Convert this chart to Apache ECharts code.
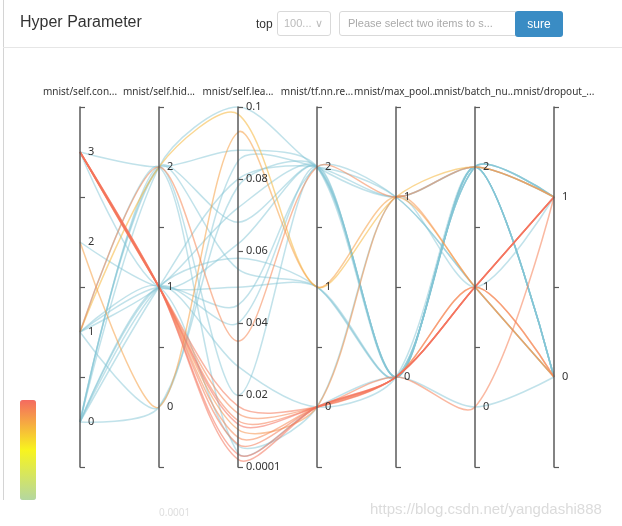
<!DOCTYPE html>
<html><head><meta charset="utf-8">
<script src="https://cdn.jsdelivr.net/npm/echarts@6/dist/echarts.min.js"></script>
<style>
html,body{margin:0;padding:0;background:#fff;width:622px;height:526px;overflow:hidden;font-family:"Liberation Sans",Arial,sans-serif;}
#chart{position:absolute;left:0;top:0;width:622px;height:526px;}
.abs{position:absolute;box-sizing:border-box;}
#title{left:20px;top:13px;font-size:16px;color:#333;}
#toplbl{left:256px;top:17px;font-size:12px;color:#333;}
#sel{left:277px;top:11px;width:54px;height:25px;border:1px solid #d9d9d9;border-radius:3px;font-size:11px;color:#bbb;padding:5px 0 0 6px;}
#inp{left:339px;top:11px;width:177px;height:25px;border:1px solid #d9d9d9;border-radius:3px 0 0 3px;font-size:11px;color:#aaa;padding:5px 0 0 8px;}
#btn{left:515px;top:11px;width:48px;height:26px;background:#3a8cc4;border-radius:3px;color:#fff;font-size:12px;text-align:center;line-height:26px;}
#hline{left:3px;top:47px;width:619px;height:1px;background:#e6e6e6;}
#vline{left:3px;top:0;width:1px;height:500px;background:#d4d4d4;}
</style></head><body>
<div id="chart"></div>
<div class="abs" id="vline"></div>
<div class="abs" id="hline"></div>
<div class="abs" id="title">Hyper Parameter</div>
<div class="abs" id="toplbl">top</div>
<div class="abs" id="sel">100...<span style="margin-left:3px">&#8744;</span></div>
<div class="abs" id="inp">Please select two items to s...</div>
<div class="abs" id="btn">sure</div>
<script>
const axisNames = ['mnist/self.con...', 'mnist/self.hid...', 'mnist/self.lea...', 'mnist/tf.nn.re...', 'mnist/max_pool...', 'mnist/batch_nu...', 'mnist/dropout_...'];
const convCats = ['0','1','2','3'];
const hiddenCats = ['0','1','2'];
const reluCats = ['0','1','2'];
const poolCats = ['0','1'];
const batchCats = ['0','1','2'];
const dropCats = ['0','1'];
const lrMin = 0.0001, lrMax = 0.1;
const scoreMin = 0.9, scoreMax = 1.0;

const conv   = [3,3,3,3,3,3,3,3,3,1, 1,2, 3,3,2,1,1,1,1,0,0,0,0,0,0,0,0,0,1];
const hidden = [1,1,1,1,1,1,1,1,1,2, 2,0, 2,1,1,2,1,1,0,2,2,2,2,1,1,1,1,0,1];
const lr     = [0.017,0.015,0.013,0.012,0.0105,0.0083,0.0064,0.0036,0.0022,0.035, 0.098,0.093, 0.088,0.062,0.05,0.004,0.045,0.072,0.085,0.1,0.055,0.068,0.02,0.058,0.028,0.08,0.04,0.078,0.006];
const relu   = [0,0,0,0,0,0,0,0,0,2, 1,1, 2,2,1,0,2,2,2,2,1,2,2,1,0,2,2,2,0];
const pool   = [0,0,0,0,1,0,0,0,0,1, 1,1, 0,0,0,0,1,0,1,1,0,0,0,0,0,1,0,0,1];
const batch  = [1,1,0,1,1,1,1,1,1,2, 2,1, 2,2,2,0,1,2,2,2,2,2,2,2,2,1,2,2,1];
const drop   = [1,0,1,1,0,0,1,1,1,1, 1,0, 0,1,0,0,0,0,1,1,0,1,0,1,0,0,1,0,1];
const score  = [0.995,0.99,0.992,0.998,0.985,0.99,0.994,0.997,0.996,0.99, 0.972,0.98, 0.6,0.55,0.5,0.45,0.6,0.5,0.7,0.65,0.55,0.5,0.6,0.5,0.55,0.6,0.45,0.5,0.55];

const rows = conv.map((c, i) => [String(c), String(hidden[i]), lr[i], String(relu[i]), String(pool[i]), String(batch[i]), String(drop[i]), score[i]]);
rows.sort((a, b) => a[7] - b[7]);
const lowRows = rows.filter(r => r[7] < scoreMin);
const highRows = rows.filter(r => r[7] >= scoreMin);

const chart = echarts.init(document.getElementById('chart'), null, {renderer: 'canvas'});
const catList = [convCats, hiddenCats, null, reluCats, poolCats, batchCats, dropCats];
const parallelAxis = axisNames.map((n, i) => {
  const ax = {dim: i, name: n};
  if (catList[i]) { ax.type = 'category'; ax.data = catList[i]; }
  else { ax.type = 'value'; ax.min = lrMin; ax.max = lrMax; }
  return ax;
});
const FONT = '"Noto Sans", "Open Sans", sans-serif';
chart.setOption({
  animation: false,
  parallel: {
    left: 80, right: 68, top: 107, bottom: 59,
    parallelAxisDefault: {
      nameLocation: 'end', nameGap: 10,
      nameTruncate: {maxWidth: 200},
      nameTextStyle: {color: '#333', fontSize: 10, fontFamily: FONT},
      axisLine: {lineStyle: {color: '#5a5a5a', width: 1.5}},
      axisTick: {length: 5, lineStyle: {color: '#5a5a5a', width: 1.2}},
      axisLabel: {color: '#333', fontSize: 11, fontFamily: FONT},
      splitLine: {show: false}
    }
  },
  parallelAxis: parallelAxis,
  visualMap: {
    type: 'continuous', dimension: 7, min: scoreMin, max: scoreMax, seriesIndex: 1,
    show: true, calculable: false, left: 20, top: 400, padding: 0,
    itemWidth: 16, itemHeight: 100, text: null,
    inRange: {color: ['#b4d7a0', '#f8f41e', '#f46a60']}
  },
  graphic: [
    {type: 'text', left: 370, top: 502, style: {text: 'https://blog.csdn.net/yangdashi888', font: '15px "Liberation Sans", Arial, sans-serif', fill: 'rgba(190,190,190,0.55)'}},
    {type: 'text', left: 159, top: 508, style: {text: '0.0001', font: '10px "Noto Sans", sans-serif', fill: 'rgba(200,200,200,0.6)'}}
  ],
  series: [{
    type: 'parallel', smooth: true,
    lineStyle: {width: 1.5, opacity: 0.5, color: '#84c6d6'},
    data: lowRows
  }, {
    type: 'parallel', smooth: true,
    lineStyle: {width: 1.5, opacity: 0.55},
    data: highRows
  }]
});
</script>
</body></html>
